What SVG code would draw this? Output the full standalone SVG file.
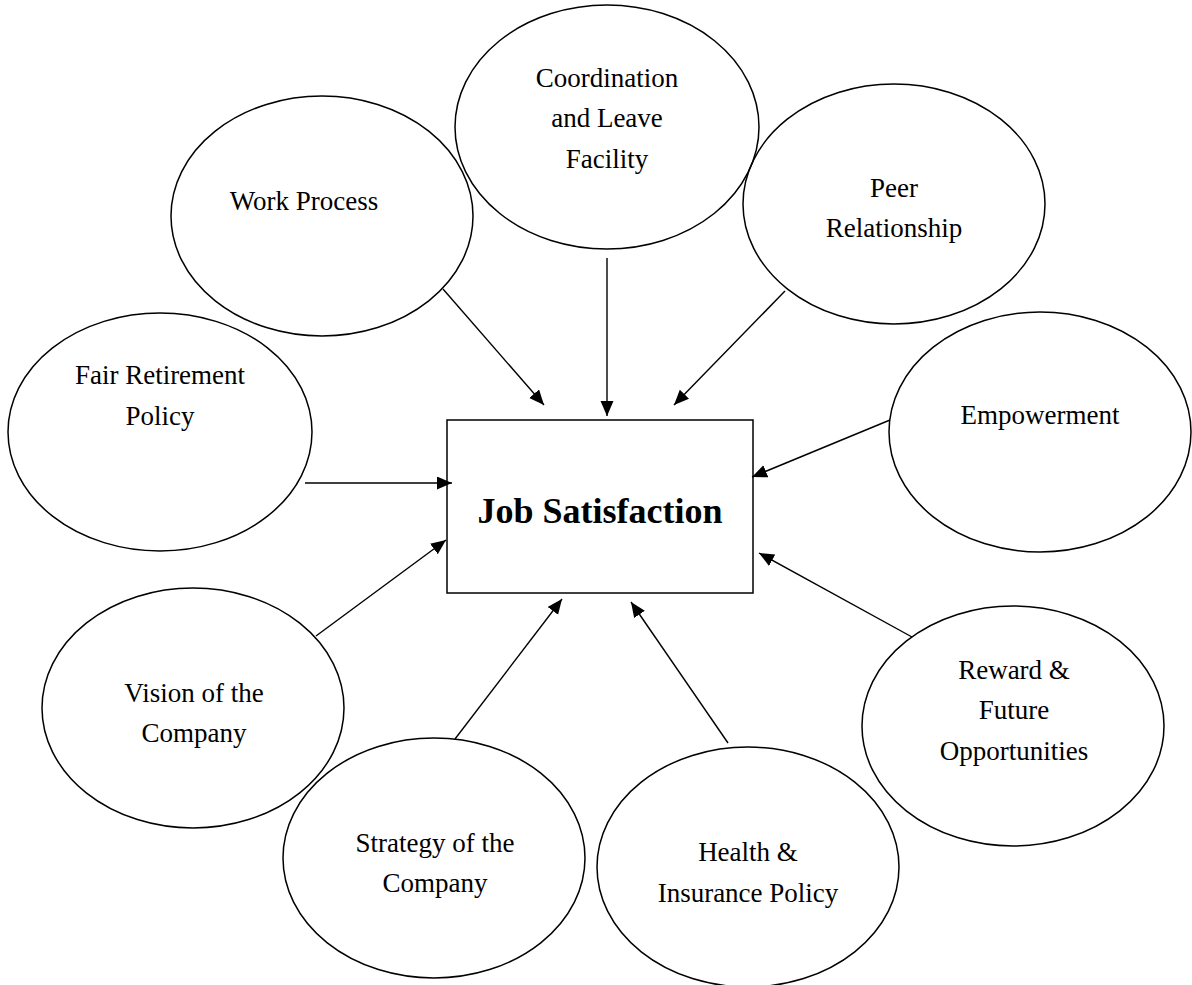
<svg xmlns="http://www.w3.org/2000/svg" width="1192" height="985" viewBox="0 0 1192 985">
<style>
.node ellipse{fill:none;stroke:#000;stroke-width:1.5}
.lbl{font-family:"Liberation Serif","Times New Roman",serif;font-size:27px;fill:#000;text-anchor:middle}
.title{font-family:"Liberation Serif","Times New Roman",serif;font-size:36px;font-weight:bold;fill:#000;text-anchor:middle}
#connectors line{stroke:#000;stroke-width:1.4;marker-end:url(#arr)}
</style>
<defs>
<marker id="arr" markerUnits="userSpaceOnUse" markerWidth="16" markerHeight="14" refX="15" refY="6.5" orient="auto">
<path d="M0,0 L15,6.5 L0,13 z" fill="#000"/>
</marker>
</defs>
<rect width="1192" height="985" fill="#fff"/>
<g id="job-satisfaction" class="node">
<rect x="447" y="420" width="306" height="173" fill="none" stroke="#000" stroke-width="1.5"/>
<text class="title" x="600" y="523">Job Satisfaction</text>
</g>
<g id="work-process" class="node">
<ellipse cx="322" cy="216" rx="151" ry="120"/>
<text class="lbl" x="304" y="210">Work Process</text>
</g>
<g id="coordination" class="node">
<ellipse cx="607" cy="127" rx="152" ry="122"/>
<text class="lbl" x="607" y="87">Coordination</text>
<text class="lbl" x="607" y="127">and Leave</text>
<text class="lbl" x="607" y="168">Facility</text>
</g>
<g id="peer" class="node">
<ellipse cx="894" cy="204" rx="151" ry="120"/>
<text class="lbl" x="894" y="197">Peer</text>
<text class="lbl" x="894" y="237">Relationship</text>
</g>
<g id="fair-retirement" class="node">
<ellipse cx="160" cy="432" rx="152" ry="119"/>
<text class="lbl" x="160" y="384">Fair Retirement</text>
<text class="lbl" x="160" y="425">Policy</text>
</g>
<g id="empowerment" class="node">
<ellipse cx="1040" cy="432" rx="151" ry="120"/>
<text class="lbl" x="1040" y="424">Empowerment</text>
</g>
<g id="vision" class="node">
<ellipse cx="193" cy="708" rx="151" ry="120"/>
<text class="lbl" x="194" y="702">Vision of the</text>
<text class="lbl" x="194" y="742">Company</text>
</g>
<g id="strategy" class="node">
<ellipse cx="434" cy="858" rx="151" ry="120"/>
<text class="lbl" x="435" y="852">Strategy of the</text>
<text class="lbl" x="435" y="892">Company</text>
</g>
<g id="health" class="node">
<ellipse cx="748" cy="867" rx="151" ry="120"/>
<text class="lbl" x="748" y="861">Health &amp;</text>
<text class="lbl" x="748" y="902">Insurance Policy</text>
</g>
<g id="reward" class="node">
<ellipse cx="1013" cy="726" rx="151" ry="120"/>
<text class="lbl" x="1014" y="679">Reward &amp;</text>
<text class="lbl" x="1014" y="719">Future</text>
<text class="lbl" x="1014" y="760">Opportunities</text>
</g>
<g id="connectors">
<line x1="443" y1="289" x2="544" y2="405"/>
<line x1="607" y1="258" x2="607" y2="416"/>
<line x1="785" y1="291" x2="674" y2="405"/>
<line x1="890" y1="420" x2="752" y2="477"/>
<line x1="305" y1="483" x2="452" y2="483"/>
<line x1="316" y1="636" x2="446" y2="540"/>
<line x1="455" y1="739" x2="562" y2="599"/>
<line x1="728" y1="743" x2="631" y2="602"/>
<line x1="912" y1="637" x2="759" y2="553"/>
</g>
</svg>
